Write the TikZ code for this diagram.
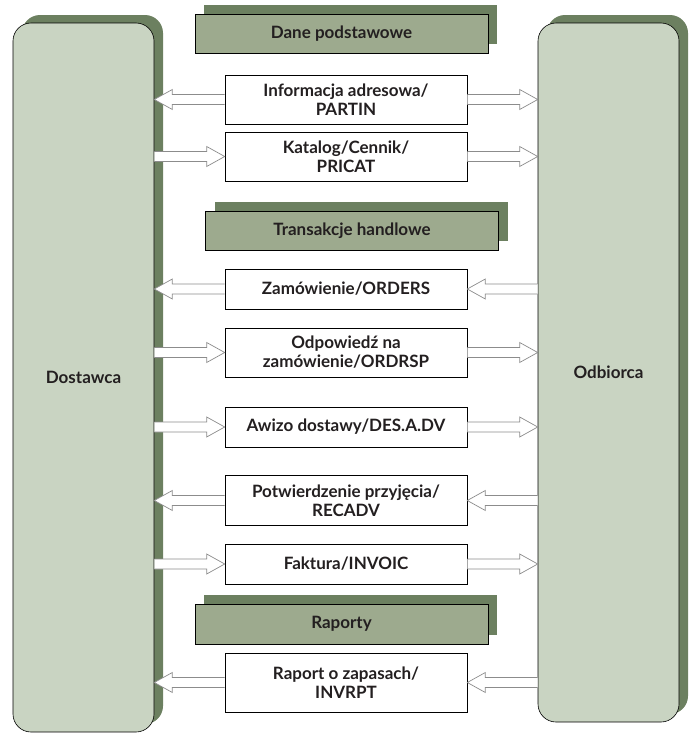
\documentclass[tikz,border=0pt]{standalone}
\usepackage{fontspec}
\setmainfont{Lato}
\usetikzlibrary{shadows,calc}
\definecolor{colfill}{HTML}{C9D4C2}
\definecolor{shad}{HTML}{6C8060}
\definecolor{hdrfill}{HTML}{9DAA8E}
\definecolor{txt}{HTML}{231F20}
\definecolor{arrgray}{HTML}{8C8C8C}
\newcommand\harrow[2]{%
  \path[harr] let \p1=(#1), \p2=(#2), \n1={sign(\x2-\x1)} in
    (\x1,\y1+5pt) -- (\x2-\n1*18pt,\y1+5pt) -- (\x2-\n1*18pt,\y1+10pt) -- (\x2,\y1)
    -- (\x2-\n1*18pt,\y1-10pt) -- (\x2-\n1*18pt,\y1-5pt) -- (\x1,\y1-5pt);}
\begin{document}
\begin{tikzpicture}[x=1pt,y=-1pt,
  font=\fontsize{17}{19}\selectfont\bfseries, text=txt,
  column/.style={draw=black, line width=0.6pt, fill=colfill, rounded corners=18pt,
    minimum width=141pt,
    drop shadow={shadow xshift=9pt, shadow yshift=8pt, fill=shad, opacity=1}},
  header/.style={draw=black, line width=0.6pt, fill=hdrfill, minimum width=293pt,
    minimum height=39pt,
    drop shadow={shadow xshift=9pt, shadow yshift=9pt, fill=shad, opacity=1}},
  msg/.style={draw=black, line width=0.6pt, fill=white, minimum width=242pt,
    align=center, inner sep=0pt},
  harr/.style={draw=arrgray, fill=white, line width=0.7pt, line join=miter}]
\useasboundingbox (0,0) rectangle (699,739);

\node[column, minimum height=709pt] (L) at (83.5,377.5) {Dostawca};
\node[column, minimum height=699pt] (R) at (608.5,372.5) {Odbiorca};

\node[header] (H1) at (341.5,33.5) {Dane podstawowe};
\node[header] (H2) at (352,230.5) {Transakcje handlowe};
\node[header, minimum height=40pt] (H3) at (341.5,624) {Raporty};

\node[msg, minimum height=49pt] (B1) at (346,99.5) {Informacja adresowa/\\PARTIN};
\node[msg, minimum height=49pt] (B2) at (346,156.5) {Katalog/Cennik/\\PRICAT};
\node[msg, minimum height=40pt] (B3) at (346,289) {Zamówienie/ORDERS};
\node[msg, minimum height=49pt] (B4) at (346,352.5) {Odpowiedź na\\zamówienie/ORDRSP};
\node[msg, minimum height=40pt] (B5) at (346,427) {Awizo dostawy/DES.A.DV};
\node[msg, minimum height=50pt] (B6) at (346,500.5) {Potwierdzenie przyjęcia/\\RECADV};
\node[msg, minimum height=40pt] (B7) at (346,564) {Faktura/INVOIC};
\node[msg, minimum height=59pt] (B8) at (346,682.5) {Raport o zapasach/\\INVRPT};

% B1: box -> L, box -> R
\harrow{B1.west}{L.east |- B1.west}
\harrow{B1.east}{R.west |- B1.east}
% B2: L -> box, box -> R
\harrow{L.east |- B2.west}{B2.west}
\harrow{B2.east}{R.west |- B2.east}
% B3: box -> L, R -> box
\harrow{B3.west}{L.east |- B3.west}
\harrow{R.west |- B3.east}{B3.east}
% B4
\harrow{L.east |- B4.west}{B4.west}
\harrow{B4.east}{R.west |- B4.east}
% B5
\harrow{L.east |- B5.west}{B5.west}
\harrow{B5.east}{R.west |- B5.east}
% B6
\harrow{B6.west}{L.east |- B6.west}
\harrow{R.west |- B6.east}{B6.east}
% B7
\harrow{L.east |- B7.west}{B7.west}
\harrow{B7.east}{R.west |- B7.east}
% B8
\harrow{B8.west}{L.east |- B8.west}
\harrow{R.west |- B8.east}{B8.east}
\end{tikzpicture}
\end{document}
